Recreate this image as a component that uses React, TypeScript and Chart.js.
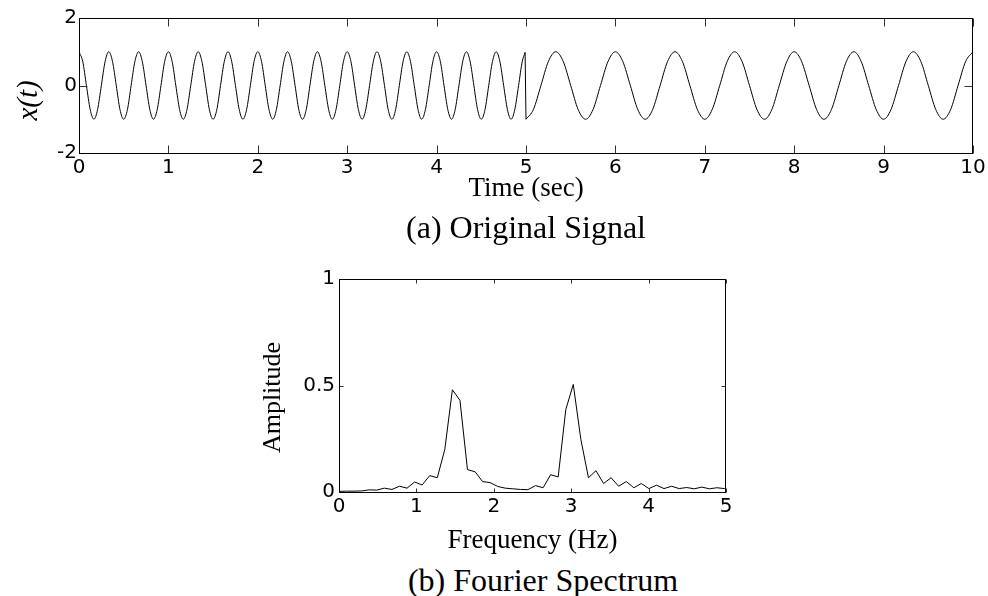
import React, { useEffect, useRef } from "react";
import { Chart, registerables } from "chart.js";

Chart.register(...registerables);

// ---------- (a) Original signal: samples ----------
// 0–5 s part (3 Hz), eight samples per period
const sigTimeA: number[] = [
  0, 0.042, 0.083, 0.125, 0.167, 0.208, 0.25, 0.292, 0.333, 0.375, 0.417, 0.458,
  0.5, 0.542, 0.583, 0.625, 0.667, 0.708, 0.75, 0.792, 0.833, 0.875, 0.917, 0.958,
  1, 1.042, 1.083, 1.125, 1.167, 1.208, 1.25, 1.292, 1.333, 1.375, 1.417, 1.458,
  1.5, 1.542, 1.583, 1.625, 1.667, 1.708, 1.75, 1.792, 1.833, 1.875, 1.917, 1.958,
  2, 2.042, 2.083, 2.125, 2.167, 2.208, 2.25, 2.292, 2.333, 2.375, 2.417, 2.458,
  2.5, 2.542, 2.583, 2.625, 2.667, 2.708, 2.75, 2.792, 2.833, 2.875, 2.917, 2.958,
  3, 3.042, 3.083, 3.125, 3.167, 3.208, 3.25, 3.292, 3.333, 3.375, 3.417, 3.458,
  3.5, 3.542, 3.583, 3.625, 3.667, 3.708, 3.75, 3.792, 3.833, 3.875, 3.917, 3.958,
  4, 4.042, 4.083, 4.125, 4.167, 4.208, 4.25, 4.292, 4.333, 4.375, 4.417, 4.458,
  4.5, 4.542, 4.583, 4.625, 4.667, 4.708, 4.75, 4.792, 4.833, 4.875, 4.917, 4.958,
  4.99,
];
const sigValueA: number[] = [
  1, 0.71, 0, -0.71, -1, -0.71, 0, 0.71, 1, 0.71, 0, -0.71,
  -1, -0.71, 0, 0.71, 1, 0.71, 0, -0.71, -1, -0.71, 0, 0.71,
  1, 0.71, 0, -0.71, -1, -0.71, 0, 0.71, 1, 0.71, 0, -0.71,
  -1, -0.71, 0, 0.71, 1, 0.71, 0, -0.71, -1, -0.71, 0, 0.71,
  1, 0.71, 0, -0.71, -1, -0.71, 0, 0.71, 1, 0.71, 0, -0.71,
  -1, -0.71, 0, 0.71, 1, 0.71, 0, -0.71, -1, -0.71, 0, 0.71,
  1, 0.71, 0, -0.71, -1, -0.71, 0, 0.71, 1, 0.71, 0, -0.71,
  -1, -0.71, 0, 0.71, 1, 0.71, 0, -0.71, -1, -0.71, 0, 0.71,
  1, 0.71, 0, -0.71, -1, -0.71, 0, 0.71, 1, 0.71, 0, -0.71,
  -1, -0.71, 0, 0.71, 1, 0.71, 0, -0.71, -1, -0.71, 0, 0.71,
  0.98,
];
// 5–10 s part (1.5 Hz)
const sigTimeB: number[] = [
  5, 5.083, 5.167, 5.25, 5.333, 5.417, 5.5, 5.583, 5.667, 5.75, 5.833, 5.917,
  6, 6.083, 6.167, 6.25, 6.333, 6.417, 6.5, 6.583, 6.667, 6.75, 6.833, 6.917,
  7, 7.083, 7.167, 7.25, 7.333, 7.417, 7.5, 7.583, 7.667, 7.75, 7.833, 7.917,
  8, 8.083, 8.167, 8.25, 8.333, 8.417, 8.5, 8.583, 8.667, 8.75, 8.833, 8.917,
  9, 9.083, 9.167, 9.25, 9.333, 9.417, 9.5, 9.583, 9.667, 9.75, 9.833, 9.917,
  10,
];
const sigValueB: number[] = [
  -1, -0.71, 0, 0.71, 1, 0.71, 0, -0.71, -1, -0.71, 0, 0.71,
  1, 0.71, 0, -0.71, -1, -0.71, 0, 0.71, 1, 0.71, 0, -0.71,
  -1, -0.71, 0, 0.71, 1, 0.71, 0, -0.71, -1, -0.71, 0, 0.71,
  1, 0.71, 0, -0.71, -1, -0.71, 0, 0.71, 1, 0.71, 0, -0.71,
  -1, -0.71, 0, 0.71, 1, 0.71, 0, -0.71, -1, -0.71, 0, 0.71,
  1,
];
const timeTicks = { min: 0, max: 10, step: 1 };
const signalTicks = { min: -2, max: 2, step: 2 };

// ---------- (b) Fourier spectrum ----------
const specFreq: number[] = [
  0, 0.098, 0.195, 0.293, 0.391, 0.488, 0.586, 0.684, 0.781, 0.879,
  0.977, 1.074, 1.172, 1.27, 1.367, 1.465, 1.563, 1.66, 1.758, 1.855,
  1.953, 2.051, 2.148, 2.246, 2.344, 2.441, 2.539, 2.637, 2.734, 2.832,
  2.93, 3.027, 3.125, 3.223, 3.32, 3.418, 3.516, 3.613, 3.711, 3.809,
  3.906, 4.004, 4.102, 4.199, 4.297, 4.395, 4.492, 4.59, 4.688, 4.785,
  4.883, 4.98, 5.078,
];
const specAmp: number[] = [
  0.003, 0.004, 0.004, 0.005, 0.01, 0.009, 0.018, 0.012, 0.027, 0.018,
  0.047, 0.033, 0.077, 0.067, 0.2, 0.48, 0.43, 0.105, 0.095, 0.049,
  0.044, 0.026, 0.018, 0.015, 0.012, 0.011, 0.03, 0.02, 0.081, 0.071,
  0.387, 0.505, 0.246, 0.067, 0.1, 0.04, 0.067, 0.027, 0.049, 0.02,
  0.04, 0.016, 0.032, 0.016, 0.027, 0.016, 0.021, 0.015, 0.023, 0.015,
  0.02, 0.016, 0.018,
];
const freqTicks = { min: 0, max: 5, step: 1 };
const ampTicks = { min: 0, max: 1, step: 0.5 };

const SANS = "'DejaVu Sans', 'Liberation Sans', Arial, sans-serif";
const SERIF = "'Liberation Serif', 'Times New Roman', serif";

const boxTicks = {
  id: "boxTicks",
  afterDatasetsDraw(chart: any, _args: any, opts: any) {
    const { ctx, chartArea: a, scales } = chart;
    const len = opts.len ?? 6;
    const L = Math.round(a.left) + 0.5;
    const R = Math.round(a.right) - 0.5;
    const T = Math.round(a.top) + 0.5;
    const B = Math.round(a.bottom) + 0.5;
    ctx.save();
    ctx.lineWidth = 1;
    ctx.strokeStyle = "#333";
    ctx.beginPath();
    scales.x.ticks.forEach((t: any) => {
      const px = Math.round(scales.x.getPixelForValue(t.value)) + 0.5;
      ctx.moveTo(px, B);
      ctx.lineTo(px, B - len);
      ctx.moveTo(px, T);
      ctx.lineTo(px, T + len);
    });
    scales.y.ticks.forEach((t: any) => {
      const py = Math.round(scales.y.getPixelForValue(t.value)) + 0.5;
      ctx.moveTo(L, py);
      ctx.lineTo(L + len, py);
      ctx.moveTo(R, py);
      ctx.lineTo(R - len, py);
    });
    ctx.stroke();
    ctx.strokeStyle = "#000";
    ctx.strokeRect(L, T, R - L, B - T);

    // y-axis title (rotated), placed like the reference
    const yt = opts.yTitle;
    if (yt) {
      ctx.translate(yt.x, (a.top + a.bottom) / 2 + yt.dy);
      ctx.rotate(-Math.PI / 2);
      ctx.font = yt.font;
      ctx.fillStyle = "#000";
      ctx.textAlign = "center";
      ctx.textBaseline = "middle";
      ctx.fillText(yt.text, 0, 0);
    }
    ctx.restore();
  },
};

const pts = (xs: number[], ys: number[]) => xs.map((x, i) => ({ x, y: ys[i] }));

const lineStyle = {
  borderColor: "#000",
  borderWidth: 1,
  pointRadius: 0,
  fill: false,
};

const tickLabel = (v: any) => String(Number(v));

export default function App() {
  const topRef = useRef<HTMLCanvasElement>(null);
  const botRef = useRef<HTMLCanvasElement>(null);

  useEffect(() => {
    const lastA = sigTimeA.length - 1;
    const c1 = new Chart(topRef.current as HTMLCanvasElement, {
      type: "line",
      data: {
        datasets: [
          { ...lineStyle, data: pts(sigTimeA, sigValueA), cubicInterpolationMode: "monotone" },
          {
            ...lineStyle,
            data: [
              { x: sigTimeA[lastA], y: sigValueA[lastA] },
              { x: sigTimeB[0], y: sigValueB[0] },
            ],
            tension: 0,
          },
          { ...lineStyle, data: pts(sigTimeB, sigValueB), cubicInterpolationMode: "monotone" },
        ],
      },
      options: {
        animation: false,
        responsive: false,
        devicePixelRatio: 1,
        layout: { padding: { left: 0, top: 18, right: 15, bottom: 0 } },
        plugins: {
          legend: { display: false },
          tooltip: { enabled: false },
          boxTicks: { len: 8, yTitle: { text: "x(t)", x: 29, dy: 15, font: `italic 29px ${SERIF}` } },
        } as any,
        scales: {
          x: {
            type: "linear",
            min: timeTicks.min,
            max: timeTicks.max,
            ticks: { stepSize: timeTicks.step, font: { family: SANS, size: 20 }, color: "#000", padding: 3, maxRotation: 0, autoSkip: false, callback: tickLabel },
            grid: { display: false, drawTicks: false },
            border: { display: false },
            title: { display: true, text: "Time (sec)", color: "#000", font: { family: SERIF, size: 27 }, padding: { top: 0, bottom: 10 } },
            afterFit: (s: any) => {
              s.height = 62;
              s.paddingLeft = 0;
              s.paddingRight = 0;
            },
          },
          y: {
            type: "linear",
            min: signalTicks.min,
            max: signalTicks.max,
            ticks: { stepSize: signalTicks.step, font: { family: SANS, size: 20 }, color: "#000", padding: 2, callback: tickLabel },
            grid: { display: false, drawTicks: false },
            border: { display: false },
            afterFit: (s: any) => {
              s.width = 79;
              s.paddingTop = 0;
              s.paddingBottom = 0;
            },
          },
        },
      } as any,
      plugins: [boxTicks as any],
    });

    const c2 = new Chart(botRef.current as HTMLCanvasElement, {
      type: "line",
      data: {
        datasets: [{ ...lineStyle, data: pts(specFreq, specAmp), tension: 0 }],
      },
      options: {
        animation: false,
        responsive: false,
        devicePixelRatio: 1,
        layout: { padding: { left: 250, top: 19, right: 262, bottom: 0 } },
        plugins: {
          legend: { display: false },
          tooltip: { enabled: false },
          boxTicks: { len: 4, yTitle: { text: "Amplitude", x: 273, dy: 12, font: `26px ${SERIF}` } },
        } as any,
        scales: {
          x: {
            type: "linear",
            min: freqTicks.min,
            max: freqTicks.max,
            ticks: { stepSize: freqTicks.step, font: { family: SANS, size: 20 }, color: "#000", padding: 3, maxRotation: 0, autoSkip: false, callback: tickLabel },
            grid: { display: false, drawTicks: false },
            border: { display: false },
            title: { display: true, text: "Frequency (Hz)", color: "#000", font: { family: SERIF, size: 27 }, padding: { top: 0, bottom: 3 } },
            afterFit: (s: any) => {
              s.height = 68;
              s.paddingLeft = 0;
              s.paddingRight = 0;
            },
          },
          y: {
            type: "linear",
            min: ampTicks.min,
            max: ampTicks.max,
            ticks: { stepSize: ampTicks.step, font: { family: SANS, size: 20 }, color: "#000", padding: 4, callback: tickLabel },
            grid: { display: false, drawTicks: false },
            border: { display: false },
            afterFit: (s: any) => {
              s.width = 89;
              s.paddingTop = 0;
              s.paddingBottom = 0;
            },
          },
        },
      } as any,
      plugins: [boxTicks as any],
    });

    return () => {
      c1.destroy();
      c2.destroy();
    };
  }, []);

  const caption: React.CSSProperties = {
    position: "absolute",
    width: 600,
    textAlign: "center",
    fontFamily: SERIF,
    fontSize: 32,
    lineHeight: "36px",
    color: "#000",
    whiteSpace: "nowrap",
  };

  return (
    <div style={{ position: "absolute", left: 0, top: 0, width: 988, height: 596, background: "#fff", overflow: "hidden" }}>
      <canvas ref={topRef} width={988} height={215} style={{ position: "absolute", left: 0, top: 0 }} />
      <div style={{ ...caption, left: 226, top: 209 }}>(a) Original Signal</div>
      <canvas ref={botRef} width={988} height={300} style={{ position: "absolute", left: 0, top: 260 }} />
      <div style={{ ...caption, left: 243, top: 562 }}>(b) Fourier Spectrum</div>
    </div>
  );
}
